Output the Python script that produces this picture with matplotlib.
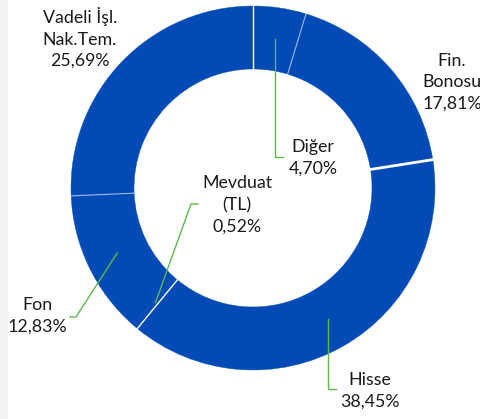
import numpy as np
import matplotlib.pyplot as plt
from matplotlib.patches import Rectangle

# --- Data ---
labels = ["Diğer", "Fin.\nBonosu", "Hisse", "Mevduat\n(TL)", "Fon", "Vadeli İşl.\nNak.Tem."]
shares = [4.70, 17.81, 38.45, 0.52, 12.83, 25.69]
pct_text = ["4,70%", "17,81%", "38,45%", "0,52%", "12,83%", "25,69%"]

# --- Layout (pixel coords, y measured from top) ---
W, H = 481, 419
cx, cy = 253, 188
r_out = 182
ring_w = 63
blue = "#034AB6"
green = "#5cb947"

# label centres
label_pos = [(313, 158), (452, 82), (370, 391), (237, 205), (37, 316), (80, 38)]
# leader elbows (None = no leader)
elbows = [((None, 157), (283, 157)),
          None,
          ((None, 389), (336, 389)),
          ((191, 204), (198, 204)),
          ((76, 317), (70, 317)),
          None]
# white separator at the start of each wedge: (linewidth, alpha)
sep_style = [(1.0, 1.0), (0.8, 0.6), (2.0, 1.0), (1.0, 1.0), (0, 0), (0.8, 0.6)]

plt.rcParams['font.family'] = ['Lato', 'DejaVu Sans']

fig = plt.figure(figsize=(W / 100, H / 100), dpi=100)
fig.patches.append(Rectangle((0, 0), 7 / W, 1, transform=fig.transFigure,
                             color="#f2f2f2", zorder=0))
ax = fig.add_axes([0, 0, 1, 1])

wedges, _ = ax.pie(shares, center=(cx, H - cy), radius=r_out, startangle=90,
                   counterclock=False, colors=[blue] * len(shares),
                   wedgeprops=dict(width=ring_w, edgecolor=blue, linewidth=0.3))
ax.set_xlim(0, W)
ax.set_ylim(0, H)
ax.set_aspect("equal")
ax.axis("off")

r_in = r_out - ring_w
r_mid = r_out - ring_w / 2
for w, (lw, a) in zip(wedges, sep_style):
    if lw == 0:
        continue
    t = np.deg2rad(w.theta2)  # clockwise pie: theta2 is the start edge
    ax.plot([cx + (r_in - 1) * np.cos(t), cx + (r_out + 1) * np.cos(t)],
            [H - cy + (r_in - 1) * np.sin(t), H - cy + (r_out + 1) * np.sin(t)],
            color="white", lw=lw, alpha=a, zorder=4)

for w, lab, pct, pos, elb in zip(wedges, labels, pct_text, label_pos, elbows):
    ax.text(pos[0], H - pos[1], lab + "\n" + pct, ha="center", va="center",
            fontsize=12.8, linespacing=1.42, color="#1a1a1a", clip_on=False)
    if elb is None:
        continue
    ang = np.deg2rad((w.theta1 + w.theta2) / 2)
    sx = cx + r_mid * np.cos(ang)
    sy = H - cy + r_mid * np.sin(ang)
    p1 = (elb[0][0] if elb[0][0] is not None else sx, H - elb[0][1])
    p2 = (elb[1][0], H - elb[1][1])
    ax.plot([sx, p1[0], p2[0]], [sy, p1[1], p2[1]], color=green, lw=1, zorder=5)

fig.savefig("out.png", dpi=100)
